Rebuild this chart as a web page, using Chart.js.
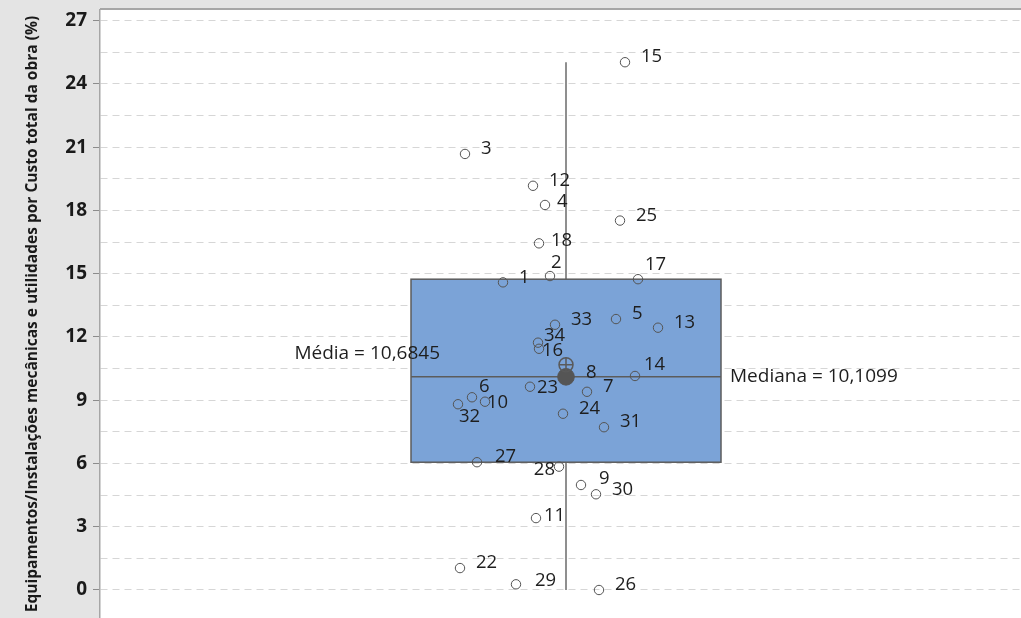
<!DOCTYPE html>
<html lang="pt-BR">
<head>
<meta charset="utf-8">
<title>Equipamentos/Instalações mecânicas e utilidades</title>
<script src="https://cdn.jsdelivr.net/npm/chart.js@4.4.1/dist/chart.umd.min.js"></script>
<style>
  html, body { margin: 0; padding: 0; background: #e4e4e4; overflow: hidden; }
  #wrap { width: 1021px; height: 618px; }
</style>
</head>
<body>
<div id="wrap"><canvas id="grafico" width="1021" height="618"></canvas></div>
<script>
// Obras (identificador) e participação de equipamentos/instalações no custo total (%)
const obras   = [15, 3, 12, 4, 25, 18, 2, 1, 17, 5, 33, 13, 34, 16, 8, 14, 23, 7, 6, 10, 32, 24, 31, 27, 28, 9, 30, 11, 22, 29, 26];
const valores = [25.03, 20.68, 19.17, 18.26, 17.52, 16.44, 14.89, 14.59, 14.74, 12.85, 12.58, 12.44, 11.73, 11.44, 10.1099, 10.15, 9.64, 9.40, 9.14, 8.93, 8.81, 8.36, 7.72, 6.06, 5.85, 4.98, 4.54, 3.41, 1.04, 0.27, 0.00];
// deslocamento horizontal (jitter) de cada ponto
const jitter  = [0.59, -1.01, -0.33, -0.21, 0.54, -0.27, -0.16, -0.63, 0.72, 0.50, -0.11, 0.92, -0.28, -0.27, 0.00, 0.69, -0.36, 0.21, -0.94, -0.81, -1.08, -0.03, 0.38, -0.89, -0.07, 0.15, 0.30, -0.30, -1.06, -0.50, 0.33];

// Estatísticas do boxplot
const minimo  = 0;
const q1      = 6.06;
const mediana = 10.1099;
const q3      = 14.74;
const maximo  = 25.03;
const media   = 10.6845;

// Marcas do eixo Y
const yRotulos = [0, 3, 6, 9, 12, 15, 18, 21, 24, 27];
const yGrade   = [0, 1.5, 3, 4.5, 6, 7.5, 9, 10.5, 12, 13.5, 15, 16.5, 18, 19.5, 21, 22.5, 24, 25.5, 27];

const tituloY = 'Equipamentos/Instalações mecânicas e utilidades por Custo total da obra (%)';

// Ajustes de posição dos rótulos (px) quando o padrão se sobrepõe
const ajusteRotulo = {
  4: [12, -3], 18: [12, -3], 2: [1, -13], 17: [7, -14], 34: [6, -7], 16: [3, 2],
  8: [20, -4], 14: [9, -11], 23: [7, 1], 6: [7, -11], 10: [2, 1], 32: [1, 12],
  28: [-4, 3, 'right'], 11: [8, -2], 29: [19, -4], 27: [18, -5], 9: [18, -6]
};
const ajustePadrao = [16, -5];

const meiaLarguraCaixa = 1.55;
const fonteTexto = '"Open Sans", "Noto Sans", sans-serif';
const virgula = v => v.toFixed(4).replace('.', ',');

const boxplot = {
  id: 'boxplot',
  beforeDraw(chart) {
    const { ctx, chartArea: a } = chart;
    ctx.save();
    ctx.fillStyle = '#e4e4e4';
    ctx.fillRect(0, 0, chart.width, chart.height);
    ctx.fillStyle = '#ffffff';
    ctx.fillRect(a.left, a.top, a.right - a.left, a.bottom - a.top);
    ctx.strokeStyle = '#a6a6a6';
    ctx.lineWidth = 2;
    ctx.beginPath();
    ctx.moveTo(a.left, a.top - 1);
    ctx.lineTo(a.right, a.top - 1);
    ctx.stroke();
    ctx.restore();
  },
  beforeDatasetsDraw(chart) {
    const { ctx, scales: { x, y } } = chart;
    const cx = x.getPixelForValue(0);
    const xl = x.getPixelForValue(-meiaLarguraCaixa);
    const xr = x.getPixelForValue(meiaLarguraCaixa);
    const yq1 = y.getPixelForValue(q1), yq3 = y.getPixelForValue(q3);
    ctx.save();
    // bigodes
    ctx.strokeStyle = '#6b6b6b';
    ctx.lineWidth = 1.5;
    ctx.beginPath();
    ctx.moveTo(cx, y.getPixelForValue(minimo));
    ctx.lineTo(cx, yq1);
    ctx.moveTo(cx, yq3);
    ctx.lineTo(cx, y.getPixelForValue(maximo));
    ctx.stroke();
    // caixa interquartil
    ctx.fillStyle = '#7ba3d7';
    ctx.fillRect(xl, yq3, xr - xl, yq1 - yq3);
    ctx.strokeStyle = '#5c5c5c';
    ctx.lineWidth = 1.5;
    ctx.strokeRect(xl, yq3, xr - xl, yq1 - yq3);
    // linha da mediana
    const ym = y.getPixelForValue(mediana);
    ctx.beginPath();
    ctx.moveTo(xl, ym);
    ctx.lineTo(xr, ym);
    ctx.stroke();
    ctx.restore();
  },
  afterDatasetsDraw(chart) {
    const { ctx, scales: { x, y } } = chart;
    const pontos = chart.getDatasetMeta(0).data;
    ctx.save();
    ctx.fillStyle = '#1e1e1e';
    ctx.font = '18.5px ' + fonteTexto;
    ctx.textBaseline = 'middle';
    pontos.forEach((p, i) => {
      const id = obras[i];
      const aj = ajusteRotulo[id] || ajustePadrao;
      ctx.textAlign = aj[2] || 'left';
      ctx.fillText(String(id), p.x + aj[0], p.y + aj[1]);
    });
    // anotações de média e mediana
    ctx.font = '19px ' + fonteTexto;
    ctx.textAlign = 'right';
    ctx.fillText('Média = ' + virgula(media), x.getPixelForValue(-1.26), y.getPixelForValue(media) - 11);
    ctx.textAlign = 'left';
    ctx.fillText('Mediana = ' + virgula(mediana), x.getPixelForValue(1.64), y.getPixelForValue(mediana));
    ctx.restore();
  }
};

new Chart(document.getElementById('grafico'), {
  type: 'scatter',
  data: {
    datasets: [
      {
        data: obras.map((_, i) => ({ x: jitter[i], y: valores[i] })),
        pointStyle: 'circle',
        pointRadius: 4.7,
        pointHoverRadius: 4.7,
        borderColor: '#555555',
        borderWidth: 1,
        backgroundColor: 'rgba(0,0,0,0)',
        order: 3
      },
      {
        data: [{ x: 0, y: mediana }],
        pointStyle: 'circle',
        pointRadius: 8.3,
        borderColor: '#555555',
        backgroundColor: '#555555',
        borderWidth: 1,
        order: 2
      },
      {
        data: [{ x: 0, y: media }],
        pointStyle: 'circle',
        pointRadius: 7,
        borderColor: '#5a5a5a',
        backgroundColor: 'rgba(0,0,0,0)',
        borderWidth: 1.5,
        order: 1
      },
      {
        data: [{ x: 0, y: media }],
        pointStyle: 'cross',
        pointRadius: 7,
        borderColor: '#5a5a5a',
        borderWidth: 1.5,
        order: 0
      }
    ]
  },
  options: {
    responsive: false,
    animation: false,
    events: [],
    layout: { autoPadding: false, padding: { top: 10, right: 0, bottom: 0, left: 0 } },
    plugins: { legend: { display: false }, tooltip: { enabled: false } },
    scales: {
      x: { type: 'linear', display: false, min: -4.66, max: 4.55 },
      y: {
        type: 'linear',
        min: -1.328,
        max: 27.507,
        afterBuildTicks: s => { s.ticks = yGrade.map(v => ({ value: v })); },
        afterFit: s => { s.width = 100; s.paddingTop = 0; s.paddingBottom = 0; },
        ticks: {
          autoSkip: false,
          padding: 6,
          color: '#1a1a1a',
          font: { family: fonteTexto, size: 19, weight: 'bold' },
          callback: v => (yRotulos.includes(v) ? String(v) : '')
        },
        grid: {
          color: '#d6d6d6',
          lineWidth: 1,
          drawTicks: true,
          tickLength: 7,
          tickColor: c => (yRotulos.includes(c.tick && c.tick.value) ? '#8c8c8c' : 'rgba(0,0,0,0)')
        },
        border: { display: true, color: '#a6a6a6', width: 1.5, dash: [7, 5] },
        title: {
          display: true,
          text: tituloY,
          color: '#1a1a1a',
          font: { family: fonteTexto, size: 15.5, weight: 'bold' },
          padding: { top: 23, bottom: 0 }
        }
      }
    }
  },
  plugins: [boxplot]
});
</script>
</body>
</html>
